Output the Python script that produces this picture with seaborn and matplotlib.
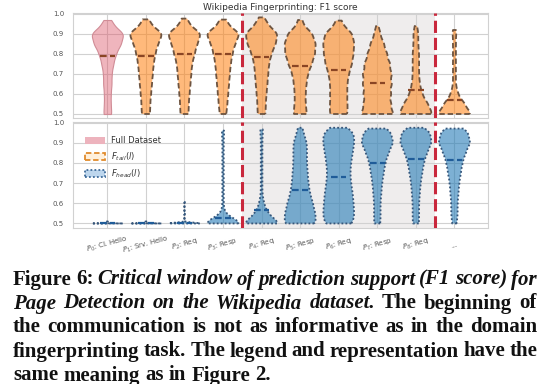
import numpy as np
import pandas as pd
import matplotlib
matplotlib.use("Agg")
import matplotlib.pyplot as plt
from matplotlib.patches import Patch
from matplotlib.collections import PolyCollection
import seaborn as sns

# score bins used to describe each violin (counts per bin)
levels = [0.50, 0.55, 0.60, 0.65, 0.70, 0.75, 0.80, 0.85, 0.90, 0.95]

step_labels = ["$P_0$: Cl. Hello", "$P_1$: Srv. Hello", "$P_2$: Req", "$P_3$: Resp",
               "$P_4$: Req", "$P_5$: Resp", "$P_6$: Req", "$P_7$: Resp", "$P_8$: Req", "..."]

# top panel: position 0 is the full dataset, positions 1..9 are F_tail(l)
full_counts = [5, 4, 4, 5, 5, 7, 10, 16, 20, 6]
full_max = 0.97
full_median = 0.79

tail_counts = [
    [5, 5, 6, 7, 8, 9, 11, 14, 20, 5],
    [5, 5, 6, 7, 8, 9, 12, 15, 20, 5],
    [4, 5, 6, 7, 8, 9, 11, 14, 20, 5],
    [5, 5, 6, 7, 8, 9, 12, 17, 20, 7],
    [9, 7, 7, 8, 10, 15, 19, 20, 16, 3],
    [12, 11, 11, 11, 13, 17, 19, 20, 18, 4],
    [22, 18, 18, 19, 19, 17, 13, 9, 4, 0],
    [22, 15, 8, 5, 4, 4, 4, 3, 3, 0],
    [24, 14, 5, 2, 2, 2, 2, 2, 2, 0],
]
tail_max = [0.973, 0.977, 0.972, 0.983, 0.97, 0.967, 0.94, 0.94, 0.92]
tail_median = [0.79, 0.80, 0.80, 0.784, 0.742, 0.722, 0.656, 0.621, 0.57]

# bottom panel: F_head(l)
head_counts = [
    [30, 0, 0, 0, 0, 0, 0, 0, 0, 0],
    [30, 0, 0, 0, 0, 0, 0, 0, 0, 0],
    [30, 1, 0, 0, 0, 0, 0, 0, 0, 0],
    [30, 2, 1, 1, 1, 1, 1, 1, 1, 1],
    [24, 8, 3, 1, 1, 1, 1, 1, 1, 1],
    [22, 20, 17, 13, 11, 10, 9, 9, 9, 4],
    [18, 19, 18, 17, 15, 14, 15, 17, 19, 19],
    [4, 4, 4, 5, 6, 8, 10, 14, 20, 17],
    [4, 4, 4, 5, 6, 8, 10, 14, 20, 18],
    [3, 4, 4, 5, 6, 8, 10, 14, 20, 17],
]
head_max = [0.51, 0.51, 0.61, 0.96, 0.966, 0.974, 0.974, 0.97, 0.974, 0.97]
head_median = [0.50, 0.50, 0.50, 0.527, 0.565, 0.668, 0.728, 0.797, 0.82, 0.814]


def build(counts, maxima):
    rows = []
    for lab, c, m in zip(step_labels, counts, maxima):
        for v in np.repeat(levels, c):
            rows.append((lab, v))
        rows.append((lab, m))
    return pd.DataFrame(rows, columns=["step", "score"])


top_df = build([full_counts] + tail_counts, [full_max] + tail_max)
bot_df = build(head_counts, head_max)
top_median = [full_median] + tail_median

pink_face = (0.86, 0.31, 0.39, 0.42)
pink_edge = "#d08c96"
orange_face = (1.0, 0.50, 0.06, 0.55)
tail_edge = "#6e5440"
blue_face = (0.12, 0.47, 0.71, 0.58)
head_edge = "#36567a"
tail_med_color = "#8a4524"
head_med_color = "#1f5c99"

sns.set_style("whitegrid", {"axes.edgecolor": ".82", "grid.color": ".82"})
plt.rcParams["font.family"] = ["DejaVu Sans"]

fig = plt.figure(figsize=(5.5, 3.84), dpi=100)
ax1 = fig.add_axes([73 / 550, 1 - 118 / 384, 415 / 550, 105 / 384])
ax2 = fig.add_axes([73 / 550, 1 - 227.5 / 384, 415 / 550, 106 / 384])

for ax, df in [(ax1, top_df), (ax2, bot_df)]:
    ax.axvspan(3.5, 8.5, color="#efeded", lw=0, zorder=0)
    sns.violinplot(data=df, x="step", y="score", order=step_labels, color="C1",
                   saturation=1, inner=None, cut=0, density_norm="width", width=0.8,
                   bw_method=0.2, linewidth=1.3, ax=ax)

# restyle the violin bodies
for coll in ax1.collections:
    if isinstance(coll, PolyCollection):
        pos = round(coll.get_paths()[0].vertices[:, 0].mean())
        if pos == 0:
            coll.set_facecolor(pink_face)
            coll.set_edgecolor(pink_edge)
            coll.set_linewidth(0.8)
        else:
            coll.set_facecolor(orange_face)
            coll.set_edgecolor(tail_edge)
            coll.set_linestyle((0, (3, 1.6)))
            coll.set_linewidth(1.3)
for coll in ax2.collections:
    if isinstance(coll, PolyCollection):
        coll.set_facecolor(blue_face)
        coll.set_edgecolor(head_edge)
        coll.set_linestyle((0, (1, 1.2)))
        coll.set_linewidth(1.3)

xpos = np.arange(len(step_labels))
ax1.hlines(top_median, xpos - 0.2, xpos + 0.2, color=tail_med_color, lw=1.6,
           linestyles=[(0, (3, 1.5))], zorder=4)
ax2.hlines(head_median, xpos - 0.2, xpos + 0.2, color=head_med_color, lw=1.6,
           linestyles=[(0, (3, 1.5))], zorder=4)

for ax in (ax1, ax2):
    for xv in (3.5, 8.5):
        ax.axvline(xv, color="#c9283d", lw=2.2, ls=(0, (4, 1.6)), zorder=5)
    ax.set_xlim(-0.89, 9.87)
    ax.set_ylim(0.48, 1.005)
    ax.set_yticks([0.5, 0.6, 0.7, 0.8, 0.9, 1.0])
    ax.set_xlabel("")
    ax.set_ylabel("")
    ax.grid(True, lw=0.8)
    ax.tick_params(axis="y", labelsize=5, labelcolor="#555555", pad=3)

ax1.tick_params(axis="x", labelbottom=False)
ax2.set_xticks(xpos)
ax2.set_xticklabels(step_labels, rotation=15, rotation_mode="anchor",
                    ha="center", va="center", fontsize=5, color="#555555")
ax2.tick_params(axis="x", pad=9)
ax1.set_title("Wikipedia Fingerprinting: F1 score", fontsize=6.5, color="#333333", pad=2)

handles = [
    Patch(facecolor=(0.93, 0.70, 0.74), edgecolor="none"),
    Patch(facecolor=(1.0, 0.94, 0.86), edgecolor="#e08b2c", linestyle=(0, (3, 1.5)), lw=1.3),
    Patch(facecolor=(0.74, 0.84, 0.93), edgecolor="#3d6a99", linestyle=(0, (1, 1.2)), lw=1.3),
]
ax2.legend(handles, ["Full Dataset", "$F_{tail}(l)$", "$F_{head}(l)$"], loc="upper left",
           bbox_to_anchor=(0.01, 0.93), frameon=False, fontsize=6, handlelength=2.5,
           handleheight=0.9, labelspacing=0.55, handletextpad=0.7, labelcolor="#333333")

# caption below the chart, justified like the paper
caption = [
    [("Figure 6:", "normal"), ("Critical window of prediction support (F1 score) for", "italic")],
    [("Page Detection on the Wikipedia dataset.", "italic"), ("The beginning of", "normal")],
    [("the communication is not as informative as in the domain", "normal")],
    [("fingerprinting task. The legend and representation have the", "normal")],
    [("same meaning as in Figure 2.", "normal")],
]
cap_left, cap_right = 13, 537
baselines = [284.5, 308.5, 332.5, 356.5, 380.5]
renderer = fig.canvas.get_renderer()


def measure(s, style, size):
    t = fig.text(0, 0, s, fontsize=size, family="Liberation Serif", weight="bold", style=style)
    w = t.get_window_extent(renderer).width
    t.remove()
    return w


lines = [[(w, st) for chunk, st in line for w in chunk.split()] for line in caption]
ref = 10
space = 0.75 * (measure("x x", "normal", ref) - measure("xx", "normal", ref))
natural = [sum(measure(w, st, ref) for w, st in ln) + space * (len(ln) - 1) for ln in lines[:4]]
fs = ref * (cap_right - cap_left) / max(natural)
space = space / 0.75 * fs / ref

for i, ln in enumerate(lines):
    widths = [measure(w, st, fs) for w, st in ln]
    if i < 4:
        gap = (cap_right - cap_left - sum(widths)) / (len(ln) - 1)
    else:
        gap = space
    x = cap_left
    for (w, st), wd in zip(ln, widths):
        fig.text(x / 550, 1 - baselines[i] / 384, w, fontsize=fs, family="Liberation Serif",
                 weight="bold", style=st, va="baseline", ha="left", color="#111111")
        x += wd + gap

fig.savefig("out.png", dpi=100)
